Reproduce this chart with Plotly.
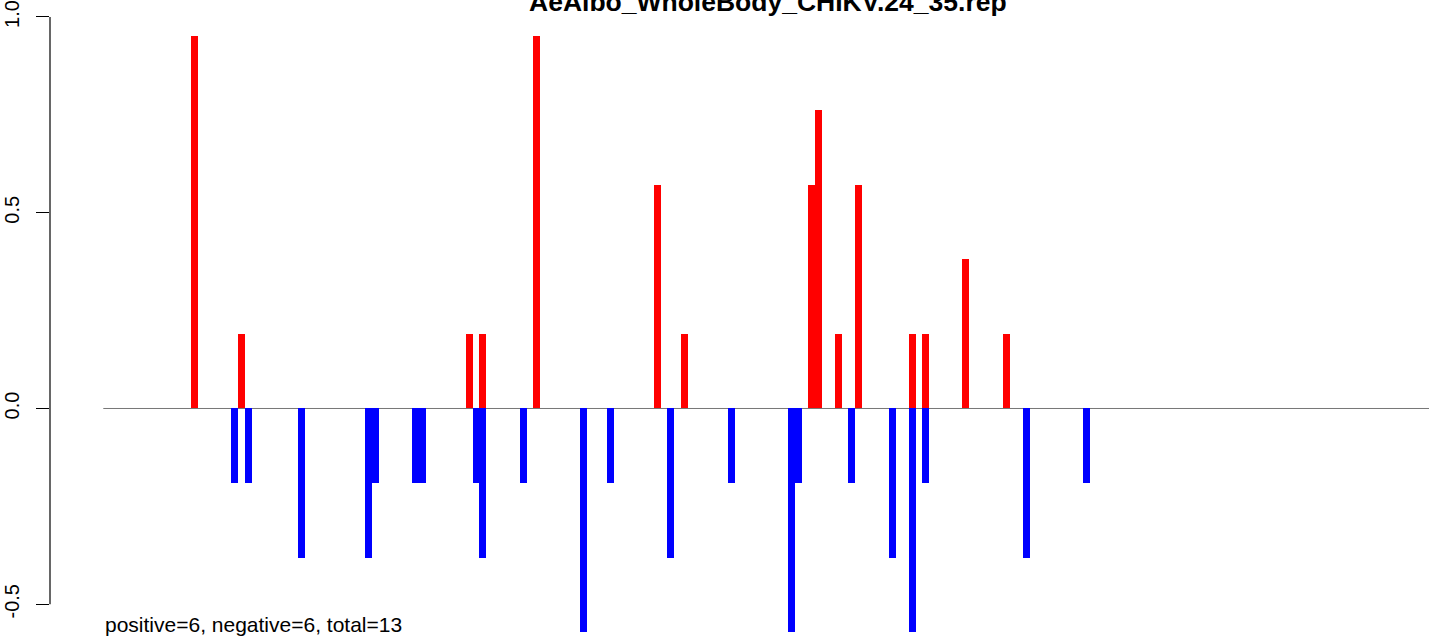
import plotly.graph_objects as go

# ---- data ----
title_text = "AeAlbo_WholeBody_CHIKV.24_35.rep"
summary_text = "positive=6, negative=6, total=13"

pos_x = [14, 21, 55, 57, 65, 83, 87, 106, 107, 110, 113, 121, 123, 129, 135]
pos_y = [0.952, 0.190, 0.190, 0.190, 0.952, 0.571, 0.190, 0.571, 0.762, 0.190,
         0.571, 0.190, 0.190, 0.381, 0.190]

neg_x = [20, 22, 30, 40, 41, 47, 48, 56, 57, 63, 72, 76, 85, 94, 103, 104, 112,
         118, 121, 123, 138, 147]
neg_y = [-0.190, -0.190, -0.381, -0.381, -0.190, -0.190, -0.190, -0.190, -0.381,
         -0.190, -0.571, -0.190, -0.381, -0.190, -0.571, -0.190, -0.190, -0.381,
         -0.571, -0.190, -0.381, -0.190]

y_ticks = [-0.5, 0.0, 0.5, 1.0]
y_tick_labels = ["-0.5", "0.0", "0.5", "1.0"]

baseline_start = 0.4
baseline_end = 300

FONT = "Liberation Sans, Arial, Helvetica, sans-serif"

fig = go.Figure()
fig.add_trace(go.Bar(x=pos_x, y=pos_y, width=1.04, marker=dict(color="#ff0000", line=dict(width=0)),
                     showlegend=False, hoverinfo="x+y"))
fig.add_trace(go.Bar(x=neg_x, y=neg_y, width=1.04, marker=dict(color="#0000ff", line=dict(width=0)),
                     showlegend=False, hoverinfo="x+y"))

# zero baseline
fig.add_shape(type="line", xref="x", yref="y", x0=baseline_start, x1=baseline_end, y0=0, y1=0,
              line=dict(color="#777777", width=1), layer="below")
# y axis line from -0.5 to 1.0
fig.add_shape(type="line", xref="paper", yref="y", x0=0, x1=0, y0=y_ticks[0], y1=y_ticks[-1],
              line=dict(color="black", width=1.2), layer="above")

fig.add_annotation(text="<b>" + title_text + "</b>", xref="paper", yref="paper",
                   x=(768 - 50) / 1379, y=1, xanchor="center", yanchor="top", yshift=15,
                   showarrow=False, font=dict(family=FONT, size=26.5, color="black"))
fig.add_annotation(text=summary_text, xref="x", yref="paper", x=baseline_start, y=0,
                   xanchor="left", yanchor="bottom", yshift=1, showarrow=False,
                   font=dict(family=FONT, size=21, color="black"))

fig.update_layout(
    width=1429, height=639,
    margin=dict(l=50, r=0, t=0, b=0),
    paper_bgcolor="white", plot_bgcolor="white",
    barmode="overlay", bargap=0,
    font=dict(family=FONT, color="black"),
    xaxis=dict(range=[-7.545, 198.06], showgrid=False, zeroline=False, showline=False,
               showticklabels=False, ticks=""),
    yaxis=dict(range=[-0.5888, 1.0434], showgrid=False, zeroline=False, showline=False,
               tickmode="array", tickvals=y_ticks, ticktext=y_tick_labels,
               ticks="outside", ticklen=13, tickwidth=1.2, tickcolor="black",
               tickangle=-90, tickfont=dict(family=FONT, size=20, color="black"),
               ticklabelstandoff=9),
)

fig.write_html("out.html", config={"displayModeBar": False},
               post_script="document.body.style.margin='0';document.body.style.overflow='hidden';")
